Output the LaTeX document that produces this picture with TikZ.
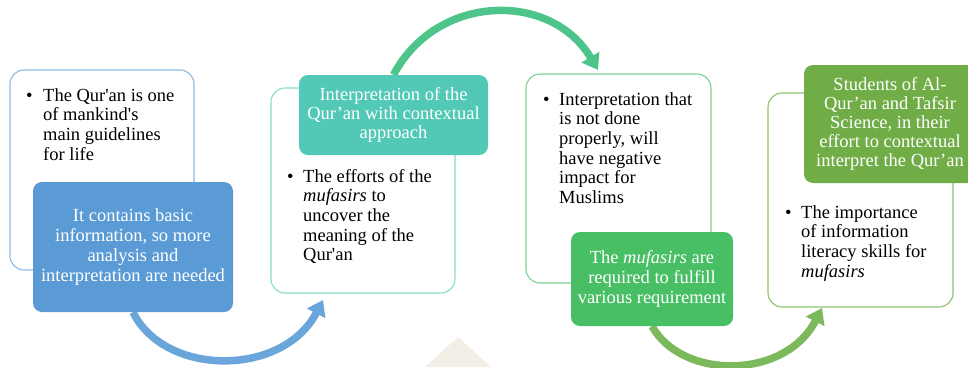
\documentclass[tikz,border=0pt]{standalone}
\usepackage{fontspec}
\setmainfont{Liberation Serif}
\usetikzlibrary{arrows.meta,backgrounds}
\definecolor{bOut}{HTML}{8DB9E4}
\definecolor{bFill}{HTML}{5B9BD5}
\definecolor{bArr}{HTML}{6AA6DA}
\definecolor{tOut}{HTML}{86DCCB}
\definecolor{tFill}{HTML}{52C9B6}
\definecolor{gArr}{HTML}{4DC48A}
\definecolor{gOut}{HTML}{7DD090}
\definecolor{gFill}{HTML}{48BF65}
\definecolor{oOut}{HTML}{8CC26A}
\definecolor{oFill}{HTML}{70AD47}
\definecolor{oArr}{HTML}{7CB95C}
\definecolor{wmark}{HTML}{F4EFE6}
\newcommand\dgfont{\fontsize{18.5}{19.7}\selectfont}
\tikzset{
  obox/.style={draw=#1, line width=1.1pt, rounded corners=14pt, fill=white, inner sep=0pt},
  fbox/.style={fill=#1, rounded corners=9pt, inner sep=0pt, text=white, align=center, font=\dgfont},
  btxt/.style={anchor=north west, inner sep=0pt, align=left, font=\dgfont},
  bul/.style={anchor=base west, inner sep=0pt, font=\dgfont},
  arr/.style={draw=#1, line width=7.5pt, -{Triangle[length=15pt,width=20pt]}}
}
\begin{document}
\begin{tikzpicture}[x=1pt,y=-1pt]
\useasboundingbox (0,0) rectangle (968,367);
% outline boxes
\node[obox=bOut, minimum width=184pt, minimum height=200pt] (b1) at (102,170) {};
\node[obox=tOut, minimum width=184pt, minimum height=205pt] (b2) at (363,190.5) {};
\node[obox=gOut, minimum width=185pt, minimum height=209pt] (b3) at (618.5,178.5) {};
\node[obox=oOut, minimum width=185pt, minimum height=214pt] (b4) at (860.5,200) {};
% filled boxes
\node[fbox=bFill, minimum width=200pt, minimum height=130pt] (f1) at (133,247)
  {It contains basic\\ information, so more\\ analysis and\\ interpretation are needed};
\node[fbox=tFill, minimum width=189pt, minimum height=80pt, font=\fontsize{18.5}{19}\selectfont] (f2) at (393.5,115)
  {Interpretation of the\\ Qur’an with contextual\\ approach};
\node[fbox=gFill, minimum width=162pt, minimum height=94pt] (f3) at (652,279)
  {The \textit{mufasirs} are\\ required to fulfill\\ various requirement};
\node[fbox=oFill, minimum width=172pt, minimum height=118pt, font=\fontsize{18.5}{19}\selectfont] (f4) at (890,124)
  {Students of Al-\\ Qur’an and Tafsir\\ Science, in their\\ effort to contextual\\ interpret the Qur’an};
% bullet texts
\node[bul] (u1) at (26,101) {•};
\node[btxt] (t1) at (43,87.2) {\strut The Qur\textquotesingle an is one\\ of mankind\textquotesingle s\\ main guidelines\\ for life};
\node[bul] (u2) at (287,182) {•};
\node[btxt] (t2) at (303,168.2) {\strut The efforts of the\\ \textit{mufasirs} to\\ uncover the\\ meaning of the\\ Qur\textquotesingle an};
\node[bul] (u3) at (543,105) {•};
\node[btxt] (t3) at (559,91.2) {\strut Interpretation that\\ is not done\\ properly, will\\ have negative\\ impact for\\ Muslims};
\node[bul] (u4) at (785,218) {•};
\node[btxt] (t4) at (801,204.2) {\strut The importance\\ of information\\ literacy skills for\\ \textit{mufasirs}};
% arrow ends
\coordinate (e1) at (323,300);
\coordinate (e2) at (598,70);
\coordinate (e3) at (822,308);
\begin{scope}[on background layer]
  \fill[wmark] (425,367) -- (458,337) -- (491,367) -- cycle;
  \draw[arr=bArr] (f1.south) .. controls (165,377) and (283,377) .. (e1);
  \draw[arr=gArr] (f2.north) .. controls (437,-7) and (551,-9) .. (e2);
  \draw[arr=oArr] (f3.south) .. controls (682,380) and (785,380) .. (e3);
\end{scope}
\end{tikzpicture}
\end{document}
